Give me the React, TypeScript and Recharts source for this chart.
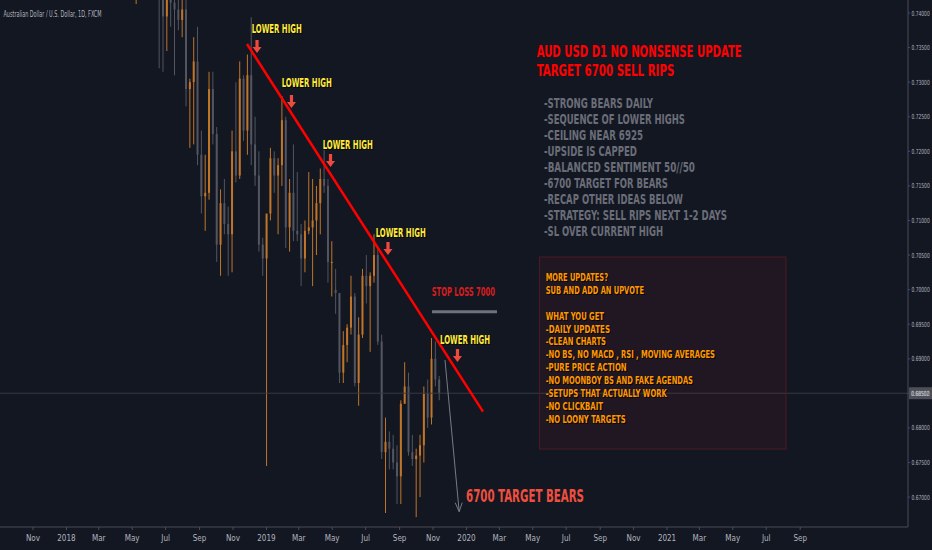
import React from "react";
import { ComposedChart, Bar, XAxis, YAxis, ReferenceLine, ReferenceDot } from "recharts";

// weekly candles, AUD/USD FXCM
const weekStarts = [
  "2018-05-07", "2018-05-14", "2018-05-21", "2018-05-28", "2018-06-04", "2018-06-11", "2018-06-18", "2018-06-25",
  "2018-07-02", "2018-07-09", "2018-07-16", "2018-07-23", "2018-07-30", "2018-08-06", "2018-08-13", "2018-08-20",
  "2018-08-27", "2018-09-03", "2018-09-10", "2018-09-17", "2018-09-24", "2018-10-01", "2018-10-08", "2018-10-15",
  "2018-10-22", "2018-10-29", "2018-11-05", "2018-11-12", "2018-11-19", "2018-11-26", "2018-12-03", "2018-12-10",
  "2018-12-17", "2018-12-24", "2018-12-31", "2019-01-07", "2019-01-14", "2019-01-21", "2019-01-28", "2019-02-04",
  "2019-02-11", "2019-02-18", "2019-02-25", "2019-03-04", "2019-03-11", "2019-03-18", "2019-03-25", "2019-04-01",
  "2019-04-08", "2019-04-15", "2019-04-22", "2019-04-29", "2019-05-06", "2019-05-13", "2019-05-20", "2019-05-27",
  "2019-06-03", "2019-06-10", "2019-06-17", "2019-06-24", "2019-07-01", "2019-07-08", "2019-07-15", "2019-07-22",
  "2019-07-29", "2019-08-05", "2019-08-12", "2019-08-19", "2019-08-26", "2019-09-02", "2019-09-09", "2019-09-16",
  "2019-09-23", "2019-09-30", "2019-10-07", "2019-10-14", "2019-10-21", "2019-10-28", "2019-11-04", "2019-11-11",
];
const opens = [
  0.752, 0.753, 0.752, 0.7555, 0.7605, 0.76, 0.744, 0.742,
  0.7395, 0.7425, 0.7415, 0.7405, 0.739, 0.7405, 0.729, 0.73,
  0.733, 0.7195, 0.7135, 0.714, 0.729, 0.7225, 0.7065, 0.7125,
  0.7095, 0.708, 0.72, 0.7165, 0.7305, 0.723, 0.731, 0.721,
  0.7165, 0.7065, 0.7045, 0.711, 0.719, 0.7165, 0.718, 0.7245,
  0.709, 0.714, 0.7085, 0.708, 0.7045, 0.7085, 0.709, 0.71,
  0.7125, 0.716, 0.715, 0.704, 0.7, 0.6995, 0.688, 0.692,
  0.6945, 0.699, 0.6865, 0.6935, 0.702, 0.7005, 0.702, 0.705,
  0.6925, 0.6765, 0.678, 0.677, 0.675, 0.673, 0.6835, 0.686,
  0.6765, 0.6755, 0.676, 0.6775, 0.685, 0.6815, 0.69, 0.687,
];
const highs = [
  0.756, 0.758, 0.761, 0.763, 0.7677, 0.763, 0.7455, 0.743,
  0.743, 0.7484, 0.7425, 0.7484, 0.745, 0.7453, 0.7305, 0.7365,
  0.738, 0.723, 0.7195, 0.7315, 0.7315, 0.7235, 0.7145, 0.716,
  0.712, 0.723, 0.73, 0.733, 0.731, 0.734, 0.7394, 0.725,
  0.72, 0.7075, 0.706, 0.7205, 0.72, 0.719, 0.728, 0.725,
  0.716, 0.721, 0.717, 0.7095, 0.71, 0.717, 0.716, 0.715,
  0.7175, 0.7202, 0.716, 0.707, 0.703, 0.6995, 0.694, 0.695,
  0.702, 0.6995, 0.696, 0.703, 0.705, 0.7025, 0.708, 0.706,
  0.6935, 0.6815, 0.6795, 0.679, 0.6775, 0.684, 0.6895, 0.688,
  0.679, 0.677, 0.679, 0.686, 0.687, 0.693, 0.6925, 0.6875,
];
const lows = [
  0.7413, 0.747, 0.7505, 0.753, 0.7586, 0.743, 0.732, 0.7315,
  0.7345, 0.738, 0.731, 0.7375, 0.7365, 0.7265, 0.7205, 0.721,
  0.718, 0.711, 0.7085, 0.713, 0.721, 0.704, 0.702, 0.708,
  0.702, 0.7025, 0.7155, 0.716, 0.7215, 0.7195, 0.718, 0.715,
  0.7055, 0.702, 0.6745, 0.71, 0.714, 0.708, 0.715, 0.706,
  0.7055, 0.707, 0.707, 0.7005, 0.7025, 0.708, 0.7005, 0.705,
  0.708, 0.714, 0.701, 0.699, 0.6965, 0.6865, 0.6865, 0.6895,
  0.6935, 0.686, 0.6832, 0.693, 0.698, 0.691, 0.701, 0.692,
  0.6755, 0.6677, 0.674, 0.674, 0.669, 0.669, 0.6835, 0.676,
  0.6745, 0.6671, 0.67, 0.675, 0.68, 0.6805, 0.686, 0.684,
];
const closes = [
  0.753, 0.752, 0.7555, 0.7605, 0.76, 0.744, 0.742, 0.7395,
  0.7425, 0.7415, 0.7405, 0.739, 0.7405, 0.729, 0.73, 0.733,
  0.7195, 0.7135, 0.714, 0.729, 0.7225, 0.7065, 0.7125, 0.7095,
  0.708, 0.72, 0.7165, 0.7305, 0.723, 0.731, 0.721, 0.7165,
  0.7065, 0.7045, 0.711, 0.719, 0.7165, 0.718, 0.7245, 0.709,
  0.714, 0.7085, 0.708, 0.7045, 0.7085, 0.709, 0.71, 0.7125,
  0.716, 0.715, 0.704, 0.704, 0.6995, 0.688, 0.692, 0.6945,
  0.699, 0.6865, 0.6935, 0.702, 0.7005, 0.702, 0.705, 0.6925,
  0.6765, 0.678, 0.677, 0.675, 0.673, 0.6835, 0.686, 0.6765,
  0.6755, 0.676, 0.6775, 0.685, 0.6815, 0.69, 0.687, 0.685,
];
const lastPrice = 0.68502;

const priceTicks = [0.67, 0.675, 0.68, 0.685, 0.69, 0.695, 0.7, 0.705, 0.71, 0.715, 0.72, 0.725, 0.73, 0.735, 0.74];
const monthTicks = [
  "2017-11-01", "2018-01-01", "2018-03-01", "2018-05-01", "2018-07-01", "2018-09-01", "2018-11-01", "2019-01-01",
  "2019-03-01", "2019-05-01", "2019-07-01", "2019-09-01", "2019-11-01", "2020-01-01", "2020-03-01", "2020-05-01",
  "2020-07-01", "2020-09-01", "2020-11-01", "2021-01-01", "2021-03-01", "2021-05-01", "2021-07-01", "2021-09-01",
];
const monthLabels = [
  "Nov", "2018", "Mar", "May", "Jul", "Sep", "Nov", "2019", "Mar", "May", "Jul", "Sep",
  "Nov", "2020", "Mar", "May", "Jul", "Sep", "Nov", "2021", "Mar", "May", "Jul", "Sep",
];

// annotations: [day since 2017-11-01, price]
const trendLine = [[390.5, 0.73552], [821.2, 0.68235]];
const stopLossLine = [[728.1, 0.69681], [846.7, 0.69681]];
const targetArrow = [[751.8, 0.68982], [777.7, 0.66789]];
const highArrows = [[408.8, 0.73422], [471.7, 0.72627], [542.9, 0.71773], [647.8, 0.70501], [774.6, 0.68954]];

const titleLines = ["AUD USD D1 NO NONSENSE UPDATE", "TARGET 6700 SELL RIPS"];
const titleWidths = [205, 137.6];
const noteLines = [
  "-STRONG BEARS DAILY", "-SEQUENCE OF LOWER HIGHS", "-CEILING NEAR 6925", "-UPSIDE IS CAPPED",
  "-BALANCED SENTIMENT 50//50", "-6700 TARGET FOR BEARS", "-RECAP OTHER IDEAS BELOW",
  "-STRATEGY: SELL RIPS NEXT 1-2 DAYS", "-SL OVER CURRENT HIGH",
];
const noteWidths = [109, 141, 99, 93, 151, 124, 139, 183, 119];
const promoLines = [
  "MORE UPDATES?", "SUB AND ADD AN UPVOTE", "", "WHAT YOU GET", "-DAILY UPDATES", "-CLEAN CHARTS",
  "-NO BS, NO MACD , RSI , MOVING AVERAGES", "-PURE PRICE ACTION", "-NO MOONBOY BS AND FAKE AGENDAS",
  "-SETUPS THAT ACTUALLY WORK", "-NO CLICKBAIT", "-NO LOONY TARGETS",
];
const promoWidths = [62.3, 98.3, 0, 58.3, 64.3, 60.3, 169.3, 81, 147.3, 121, 57.3, 80];
const lowerHighPos = [[251.7, 33.3], [281.7, 87.3], [322.7, 149], [375.7, 237.3], [440, 344]];

const BG = "#131722";
const UP = "#d4802a";
const DOWN = "#5a5d68";
const AXIS = "#4a4d57";
const TEXT = "#b2b5be";
const FONT = "'Liberation Sans Narrow', 'DejaVu Sans Condensed', sans-serif";
const AXIS_FONT = "'DejaVu Sans Condensed', sans-serif";

const BASE = Date.UTC(2017, 10, 1);
const dayOf = (s: string) => (Date.parse(s + "T00:00:00Z") - BASE) / 86400000;
const X_DOMAIN = [-60.22, 1596.72];
const Y_DOMAIN = [0.665676, 0.74188];

const candles = weekStarts.map((w, i) => ({
  day: dayOf(w) + 2,
  range: [lows[i], highs[i]],
  open: opens[i],
  close: closes[i],
}));
const tickDays = monthTicks.map(dayOf);

function Candle(props: any) {
  const { x, y, width, height, payload } = props;
  const top = Math.min(y, y + height);
  const h = Math.abs(height);
  const hi = payload.range[1];
  const lo = payload.range[0];
  const k = hi - lo > 0 ? h / (hi - lo) : 0;
  const cx = x + width / 2;
  const bTop = top + (hi - Math.max(payload.open, payload.close)) * k;
  const bH = Math.max(1, Math.abs(payload.open - payload.close) * k);
  const c = payload.close >= payload.open ? UP : DOWN;
  return (
    <g opacity={0.9}>
      <line x1={cx} x2={cx} y1={top} y2={top + h} stroke={c} strokeWidth={1} />
      <rect x={cx - 1} y={bTop} width={2} height={bH} fill={c} />
    </g>
  );
}

function DownArrow(props: any) {
  const { cx, cy } = props;
  const d = `M${cx},${cy} L${cx - 4.5},${cy - 6} L${cx - 1.6},${cy - 6} L${cx - 1.6},${cy - 13} L${cx + 1.6},${cy - 13} L${cx + 1.6},${cy - 6} L${cx + 4.5},${cy - 6} Z`;
  return <path d={d} fill="#f04a3e" />;
}

function ArrowTip(props: any) {
  const { cx, cy } = props;
  return (
    <path d={`M${cx - 4},${cy - 9} L${cx},${cy} L${cx + 3},${cy - 9}`} stroke="#787b86" strokeWidth={1} fill="none" />
  );
}

// narrow price label: squeezed horizontally so it stays inside the 24px scale
function PriceText({ x, y, fill, children }: any) {
  return (
    <text transform={`translate(${x} ${y}) scale(0.7 1)`} fontSize={7} fontFamily={AXIS_FONT} fill={fill}>
      {children}
    </text>
  );
}

function PriceTag(props: any) {
  const vb = props.viewBox || {};
  const x = vb.x + vb.width;
  const y = vb.y;
  return (
    <g>
      <rect x={x + 1} y={y - 6} width={23} height={12} fill="#4c4f58" />
      <PriceText x={x + 3} y={y + 2.5} fill="#d1d4dc">{lastPrice.toFixed(5)}</PriceText>
    </g>
  );
}

function YTick(props: any) {
  const { y, payload } = props;
  return <PriceText x={911.5} y={y + 2.5} fill={TEXT}>{payload.value.toFixed(5)}</PriceText>;
}

function XTick(props: any) {
  const { x, y, payload } = props;
  const i = tickDays.indexOf(payload.value);
  return (
    <text x={x} y={y + 9} fontSize={8} fontFamily={FONT} fill={TEXT} textAnchor="middle">
      {monthLabels[i]}
    </text>
  );
}

function Txt({ x, y, w, size, fill, children, shadow }: any) {
  return (
    <g>
      {shadow && (
        <text x={x + 1} y={y + 1} fontSize={size} fontFamily={FONT} fontWeight="bold" fill="#000" opacity={0.7}
          textLength={w} lengthAdjust="spacingAndGlyphs">{children}</text>
      )}
      <text x={x} y={y} fontSize={size} fontFamily={FONT} fontWeight="bold" fill={fill}
        textLength={w} lengthAdjust="spacingAndGlyphs">{children}</text>
    </g>
  );
}

export default function App() {
  return (
    <div style={{ position: "absolute", left: 0, top: 0, width: 932, height: 550, background: BG, overflow: "hidden" }}>
      <ComposedChart width={932} height={550} data={candles} margin={{ top: 0, right: 0, bottom: 0, left: 0 }}>
        <XAxis
          dataKey="day"
          type="number"
          domain={X_DOMAIN}
          allowDataOverflow
          ticks={tickDays}
          interval={0}
          height={23}
          tick={<XTick />}
          tickSize={3}
          axisLine={{ stroke: AXIS }}
          tickLine={{ stroke: AXIS }}
        />
        <YAxis
          orientation="right"
          domain={Y_DOMAIN}
          allowDataOverflow
          ticks={priceTicks}
          interval={0}
          width={24}
          tick={<YTick />}
          tickSize={2}
          tickMargin={2}
          axisLine={{ stroke: AXIS }}
          tickLine={{ stroke: AXIS }}
        />
        <ReferenceLine y={lastPrice} stroke="#363a45" strokeWidth={1} label={<PriceTag />} />
        <Bar dataKey="range" barSize={3} shape={<Candle />} isAnimationActive={false} />
        <ReferenceLine
          segment={[{ x: trendLine[0][0], y: trendLine[0][1] }, { x: trendLine[1][0], y: trendLine[1][1] }]}
          stroke="#ff0000"
          strokeWidth={2.5}
          ifOverflow="visible"
        />
        <ReferenceLine
          segment={[{ x: stopLossLine[0][0], y: stopLossLine[0][1] }, { x: stopLossLine[1][0], y: stopLossLine[1][1] }]}
          stroke="#6f727c"
          strokeWidth={3}
          ifOverflow="visible"
        />
        <ReferenceLine
          segment={[{ x: targetArrow[0][0], y: targetArrow[0][1] }, { x: targetArrow[1][0], y: targetArrow[1][1] }]}
          stroke="#787b86"
          strokeWidth={1}
          ifOverflow="visible"
        />
        <ReferenceDot x={targetArrow[1][0]} y={targetArrow[1][1]} r={0} shape={<ArrowTip />} ifOverflow="visible" />
        {highArrows.map((a, i) => (
          <ReferenceDot key={i} x={a[0]} y={a[1]} r={0} shape={<DownArrow />} ifOverflow="visible" />
        ))}
      </ComposedChart>
      <svg width={932} height={550} style={{ position: "absolute", left: 0, top: 0, pointerEvents: "none" }}>
        <text x={3.5} y={16.5} fontSize={8.5} fontFamily={FONT} fill={TEXT} textLength={98} lengthAdjust="spacingAndGlyphs">
          Australian Dollar / U.S. Dollar, 1D, FXCM
        </text>
        {lowerHighPos.map((p, i) => (
          <Txt key={i} x={p[0]} y={p[1]} w={50} size={12.5} fill="#ffeb3b" shadow>LOWER HIGH</Txt>
        ))}
        {titleLines.map((t, i) => (
          <Txt key={t} x={536.7} y={56.7 + i * 19} w={titleWidths[i]} size={16} fill="#ff0000">{t}</Txt>
        ))}
        {noteLines.map((t, i) => (
          <Txt key={t} x={544} y={108.3 + i * 16} w={noteWidths[i]} size={14.5} fill="#6a6d78">{t}</Txt>
        ))}
        <rect x={539.5} y={257} width={246.5} height={192} fill="rgba(150,30,40,0.10)" stroke="#4e1a22" strokeWidth={1} />
        {promoLines.map((t, i) =>
          t ? (
            <Txt key={i} x={545.7} y={281 + i * 12.88} w={promoWidths[i]} size={11} fill="#ff9800" shadow>{t}</Txt>
          ) : null
        )}
        <Txt x={431.7} y={296} w={63.3} size={11.5} fill="#d81e1e">STOP LOSS 7000</Txt>
        <Txt x={466} y={502.3} w={118} size={17} fill="#ef4f3f">6700 TARGET BEARS</Txt>
      </svg>
    </div>
  );
}
